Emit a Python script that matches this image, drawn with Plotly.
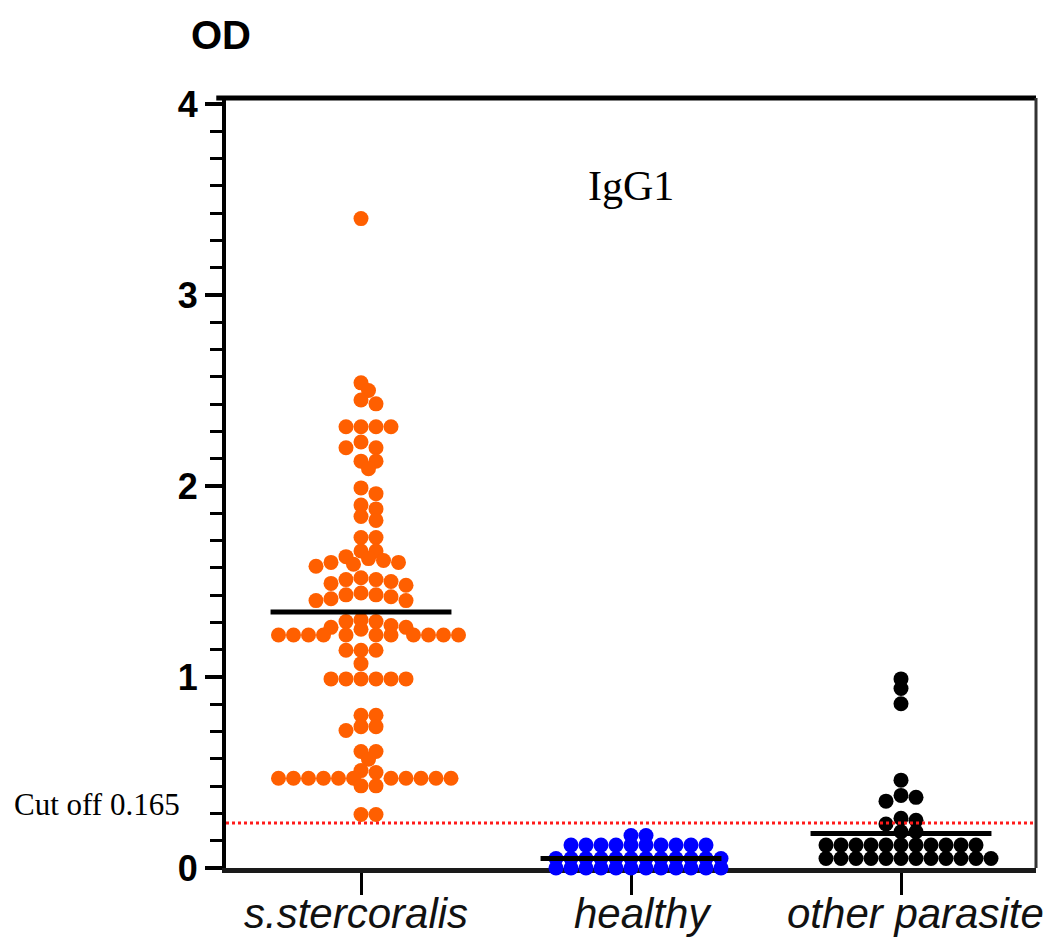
import plotly.graph_objects as go

# ---------------- data ----------------
categories = ["s.stercoralis", "healthy", "other parasite"]

ss_values = [
    3.40,
    2.54, 2.50, 2.45, 2.43,
    2.31, 2.31, 2.31, 2.31,
    2.23, 2.20, 2.20,
    2.13, 2.13, 2.09,
    1.99, 1.96,
    1.90, 1.88, 1.84, 1.82,
    1.73, 1.73,
    1.66, 1.66, 1.63, 1.62, 1.61, 1.60, 1.60, 1.59, 1.58,
    1.52, 1.51, 1.51, 1.50, 1.49, 1.48,
    1.44, 1.43, 1.43, 1.42, 1.41, 1.40, 1.40,
    1.30, 1.29, 1.29, 1.27, 1.26, 1.26, 1.25,
    1.22, 1.22, 1.22, 1.22, 1.22, 1.22, 1.22, 1.22, 1.22, 1.22, 1.22,
    1.14, 1.14, 1.14,
    1.07,
    0.99, 0.99, 0.99, 0.99, 0.99, 0.99,
    0.80, 0.80, 0.74, 0.74, 0.72,
    0.61, 0.61, 0.57,
    0.51, 0.50,
    0.47, 0.47, 0.47, 0.47, 0.47, 0.47, 0.47, 0.47, 0.47, 0.47, 0.47,
    0.43, 0.43,
    0.28, 0.28,
]

healthy_values = [
    0.12, 0.12, 0.12, 0.12, 0.12, 0.12, 0.12, 0.12, 0.12, 0.12,
    0.17, 0.17,
    0.05, 0.05, 0.05, 0.05, 0.05, 0.05, 0.05, 0.05, 0.05, 0.05, 0.05, 0.05,
    0.00, 0.00, 0.00, 0.00, 0.00, 0.00, 0.00, 0.00, 0.00, 0.00, 0.00, 0.00,
]

other_values = [
    0.99, 0.94, 0.86,
    0.46, 0.38, 0.37, 0.35,
    0.26, 0.25, 0.23, 0.19, 0.19,
    0.12, 0.12, 0.12, 0.12, 0.12, 0.12, 0.12, 0.12, 0.12, 0.12, 0.12,
    0.05, 0.05, 0.05, 0.05, 0.05, 0.05, 0.05, 0.05, 0.05, 0.05, 0.05, 0.05,
]

group_means = [1.34, 0.05, 0.18]
cutoff_value = 0.235
cutoff_label = "Cut off 0.165"
y_tick_values = [0, 1, 2, 3, 4]
panel_title = "IgG1"
y_title = "OD"

# ---------------- layout geometry / styles ----------------
W, H = 1059, 942
M_L, M_R, M_T, M_B = 226, 23, 98, 74
plot_w = W - M_L - M_R
plot_h = H - M_T - M_B
x_range = [-0.5, 2.5]
px_per_y = 191.0
y_range = [0, plot_h / px_per_y]
px_per_x = plot_w / (x_range[1] - x_range[0])

DOT = 15          # marker diameter, px
MIN_SEP = 9.5     # minimal centre distance in the swarm, px

colors = ["#ff5f00", "#0000ff", "#000000"]
label_xshift = [-5, 12, 14]


def swarm_x(values, center):
    """Simple beeswarm: place each point at the x offset closest to the
    category centre (on a half-dot grid) that does not collide."""
    placed = []
    xs = []
    step = DOT / 2.0
    order = [0]
    for i in range(1, 80):
        order += [i, -i]
    for v in values:
        yp = v * px_per_y
        xp = 0.0
        for k in order:
            cand = k * step
            if all((cand - a) ** 2 + (yp - b) ** 2 >= MIN_SEP ** 2 for a, b in placed):
                xp = cand
                break
        placed.append((xp, yp))
        xs.append(center + xp / px_per_x)
    return xs


groups = [ss_values, healthy_values, other_values]

fig = go.Figure()

for i, vals in enumerate(groups):
    fig.add_trace(go.Scatter(
        x=swarm_x(vals, i), y=vals, mode="markers",
        marker=dict(size=DOT, color=colors[i], line=dict(width=0)),
        cliponaxis=False, showlegend=False, hoverinfo="y",
    ))

# mean lines
for i, m in enumerate(group_means):
    fig.add_trace(go.Scatter(
        x=[i - 0.335, i + 0.335], y=[m, m], mode="lines",
        line=dict(color="black", width=5), cliponaxis=False,
        showlegend=False, hoverinfo="skip",
    ))

# cut-off line
fig.add_trace(go.Scatter(
    x=[x_range[0], x_range[1]], y=[cutoff_value, cutoff_value], mode="lines",
    line=dict(color="#ff1a1a", width=3, dash="dot"),
    showlegend=False, hoverinfo="skip",
))

annotations = [
    dict(text=y_title, xref="paper", yref="paper",
         x=(221 - M_L) / plot_w, y=(H - M_B - 35) / plot_h,
         xanchor="center", yanchor="middle", showarrow=False,
         font=dict(family="Liberation Sans, Arial, sans-serif",
                   size=40, color="black", weight="bold")),
    dict(text=panel_title, xref="x", yref="y", x=1.0, y=3.57,
         xanchor="center", yanchor="middle", showarrow=False,
         font=dict(family="Liberation Serif, Times New Roman, serif",
                   size=42, color="black")),
    dict(text=cutoff_label, xref="paper", yref="y",
         x=(12 - M_L) / plot_w, y=0.33,
         xanchor="left", yanchor="middle", showarrow=False,
         font=dict(family="Liberation Serif, Times New Roman, serif",
                   size=31, color="black")),
]
for i, cat in enumerate(categories):
    annotations.append(dict(
        text=cat, xref="x", yref="paper", x=i, y=0,
        xanchor="center", yanchor="middle", xshift=label_xshift[i], yshift=-45,
        showarrow=False,
        font=dict(family="Liberation Sans, Arial, sans-serif", size=42,
                  color="#111111", style="italic"),
    ))

fig.update_layout(
    width=W, height=H,
    margin=dict(l=M_L, r=M_R, t=M_T, b=M_B),
    plot_bgcolor="white", paper_bgcolor="white",
    xaxis=dict(
        range=x_range, tickmode="array", tickvals=[0, 1, 2],
        showticklabels=False, showgrid=False, zeroline=False,
        showline=True, linewidth=5, linecolor="#1a1a1a",
        ticks="outside", ticklen=22, tickwidth=3, tickcolor="black",
        layer="below traces", automargin=False,
    ),
    yaxis=dict(
        range=y_range, tickmode="array", tickvals=y_tick_values,
        showgrid=False, zeroline=False,
        showline=True, linewidth=4, linecolor="black",
        ticks="outside", ticklen=17, tickwidth=4, tickcolor="black",
        minor=dict(dtick=1 / 7, tick0=0, ticks="outside", ticklen=12,
                   tickwidth=3, tickcolor="black", showgrid=False),
        tickfont=dict(family="Liberation Sans, Arial, sans-serif",
                      size=36, color="black", weight="bold"),
        layer="below traces", automargin=False,
    ),
    shapes=[
        dict(type="line", xref="paper", yref="paper", x0=-0.012, x1=1.0,
             y0=1, y1=1, line=dict(color="black", width=5)),
        dict(type="line", xref="paper", yref="paper", x0=1, x1=1,
             y0=0, y1=1, line=dict(color="#333333", width=3)),
    ],
    annotations=annotations,
)

fig.write_html("out.html")
